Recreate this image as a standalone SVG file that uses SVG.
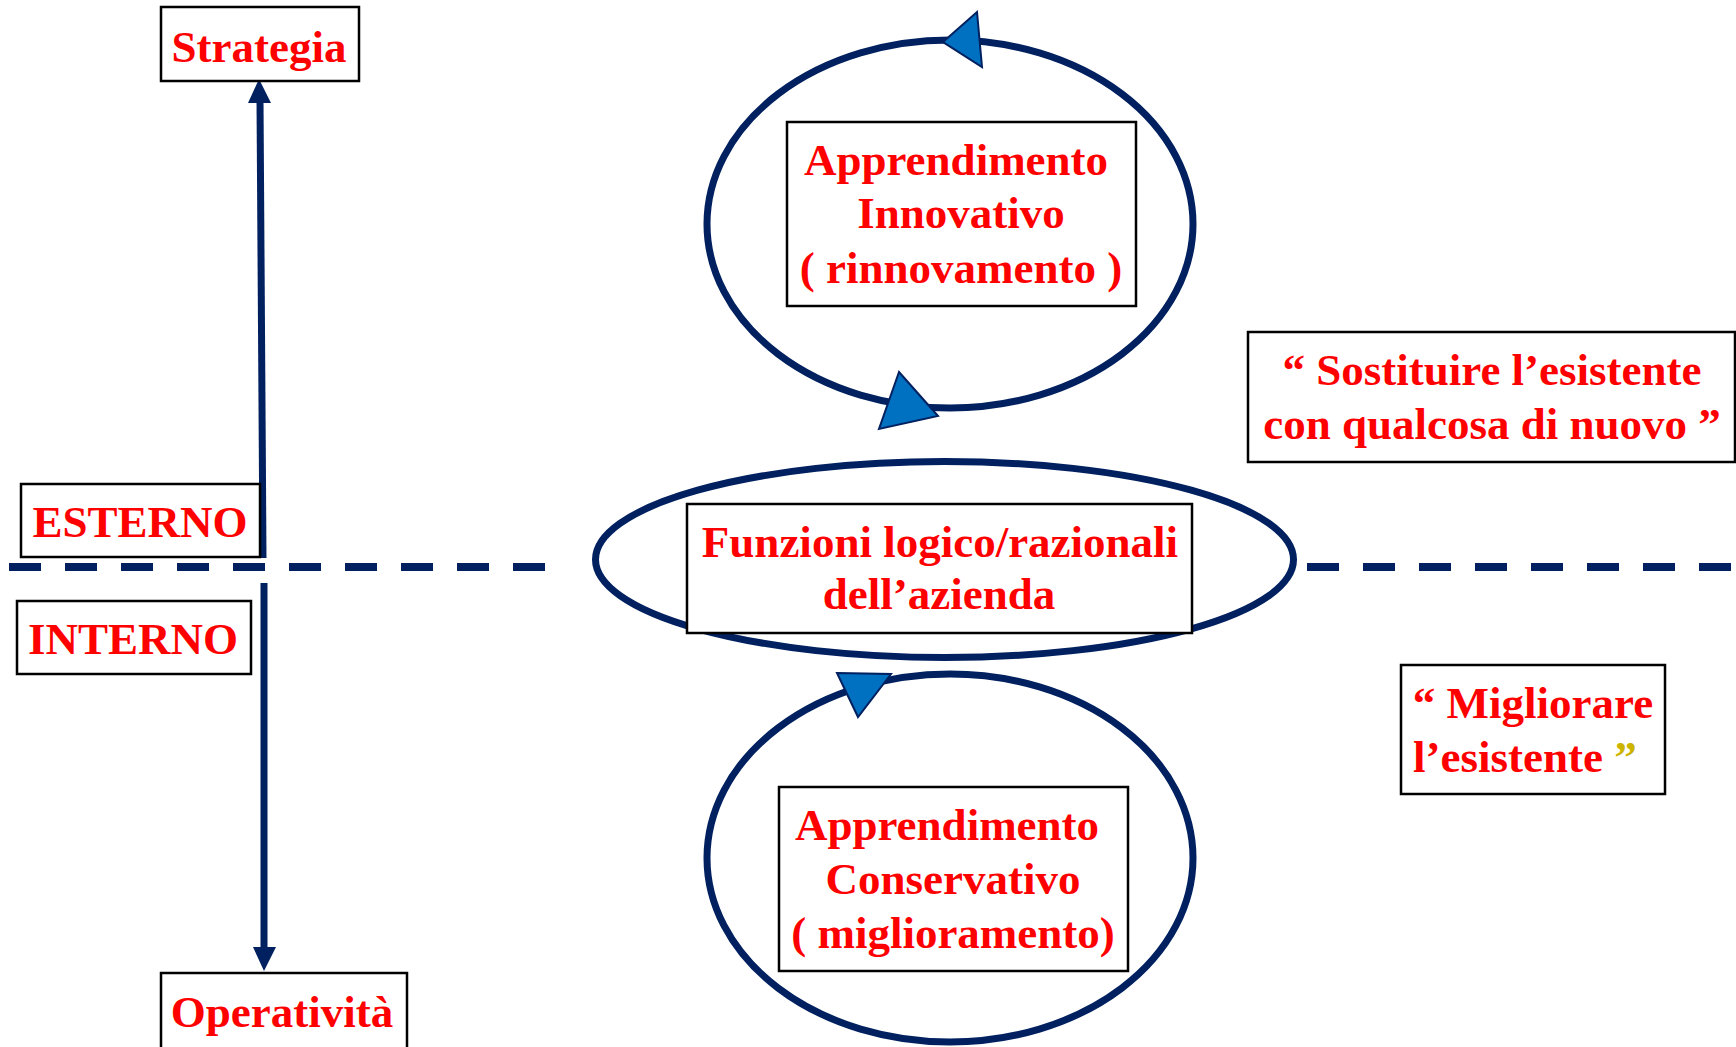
<svg xmlns="http://www.w3.org/2000/svg" width="1736" height="1047" viewBox="0 0 1736 1047">
<style>
.box{fill:#fff;stroke:#000;stroke-width:2.5}
.t{font-family:"Liberation Serif","Times New Roman",serif;font-weight:bold;font-size:45px;fill:#FF0000;text-anchor:middle}
.ring{fill:none;stroke:#002060;stroke-width:7}
.line{stroke:#002060;stroke-width:7;fill:none}
.dash{stroke:#002060;stroke-width:8;stroke-dasharray:32 24;fill:none}
.head{fill:#0070C0;stroke:#002060;stroke-width:2;stroke-linejoin:miter}
.ah{fill:#002060}
</style>
<rect width="1736" height="1047" fill="#fff"/>
<g id="connectors">
<line class="dash" x1="9" y1="567" x2="548" y2="567"/>
<line class="dash" x1="1307" y1="567" x2="1740" y2="567"/>
<line class="line" x1="263" y1="558" x2="260" y2="100"/>
<polygon class="ah" points="259,79 248,103 271,103"/>
<line class="line" x1="264" y1="583" x2="264" y2="950"/>
<polygon class="ah" points="264,971 253,947 276,947"/>
</g>
<g id="loop-top">
<ellipse class="ring" cx="950" cy="224" rx="243" ry="184"/>
<polygon class="head" points="943,42 977,12 982,67"/>
<polygon class="head" points="899,372 879,429 938,416"/>
</g>
<g id="loop-bottom">
<ellipse class="ring" cx="950" cy="858" rx="243" ry="184"/>
<polygon class="head" points="837,673 891,674 858,717"/>
</g>
<g id="funzioni">
<ellipse class="ring" cx="944.5" cy="559.5" rx="349" ry="98"/>
<rect class="box" x="687" y="504" width="505" height="129"/>
<text class="t" x="940" y="557">Funzioni logico/razionali</text>
<text class="t" x="939" y="609">dell’azienda</text>
</g>
<g id="strategia">
<rect class="box" x="161" y="7" width="198" height="74"/>
<text class="t" x="259" y="62">Strategia</text>
</g>
<g id="esterno">
<rect class="box" x="21" y="484" width="239" height="73"/>
<text class="t" x="140" y="537">ESTERNO</text>
</g>
<g id="interno">
<rect class="box" x="17" y="601" width="234" height="73"/>
<text class="t" x="133" y="654">INTERNO</text>
</g>
<g id="operativita">
<rect class="box" x="161" y="973" width="246" height="80"/>
<text class="t" x="282" y="1027">Operatività</text>
</g>
<g id="innovativo">
<rect class="box" x="787" y="122" width="349" height="184"/>
<text class="t" x="956" y="175">Apprendimento</text>
<text class="t" x="961" y="228">Innovativo</text>
<text class="t" x="961" y="283">( rinnovamento )</text>
</g>
<g id="conservativo">
<rect class="box" x="779" y="787" width="349" height="184"/>
<text class="t" x="947" y="840">Apprendimento</text>
<text class="t" x="953" y="894">Conservativo</text>
<text class="t" x="953" y="948">( miglioramento)</text>
</g>
<g id="sostituire">
<rect class="box" x="1248" y="332" width="487" height="130"/>
<text class="t" x="1492" y="385">“ Sostituire l’esistente</text>
<text class="t" x="1492" y="439">con qualcosa di nuovo ”</text>
</g>
<g id="migliorare">
<rect class="box" x="1401" y="665" width="264" height="129"/>
<text class="t" x="1533" y="718">“ Migliorare</text>
<text class="t" x="1413" y="772" style="text-anchor:start">l’esistente <tspan fill="#CCB400">”</tspan></text>
</g>
</svg>
